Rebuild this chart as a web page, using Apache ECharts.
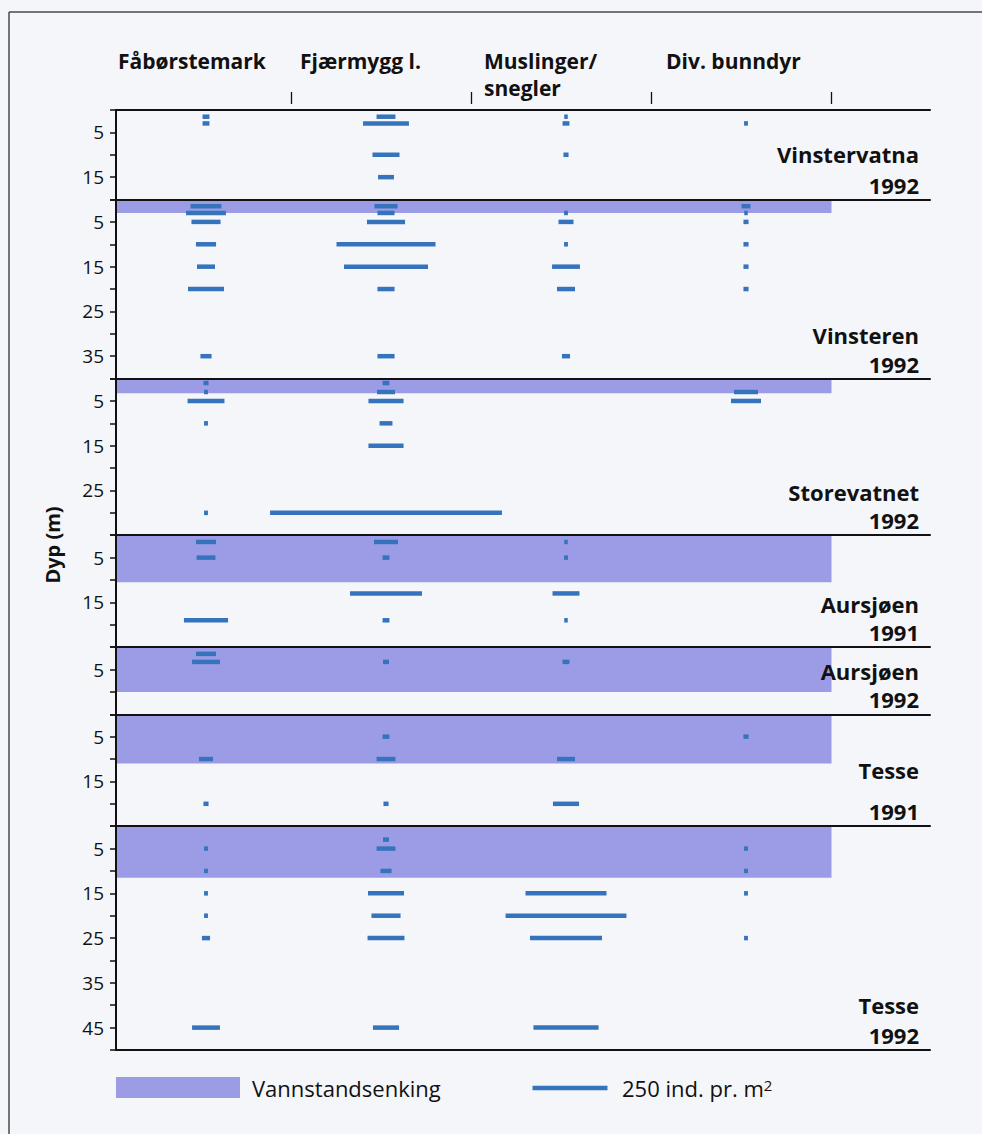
<!DOCTYPE html>
<html>
<head>
<meta charset="utf-8">
<script src="https://cdn.jsdelivr.net/npm/echarts@6/dist/echarts.min.js"></script>
<style>
  html, body { margin: 0; padding: 0; background: #f5f6fa; }
  #chart { width: 982px; height: 1134px; }
</style>
</head>
<body>
<div id="chart"></div>
<script>
// column headings
const groups = ['Fåbørstemark', 'Fjærmygg l.', 'Muslinger/\nsnegler', 'Div. bunndyr'];
// lakes, top to bottom
const lakes = ['Vinstervatna\n1992', 'Vinsteren\n1992', 'Storevatnet\n1992', 'Aursjøen\n1991',
               'Aursjøen\n1992', 'Tesse\n1991', 'Tesse\n1992'];
const maxDepth = [20, 40, 35, 25, 15, 25, 50];          // m shown per panel
const drawdown = [0, 3, 3.3, 10.5, 10, 11, 11.5];       // vannstandsenking, m
const depthLabels = [[5, 15], [5, 15, 25, 35], [5, 15, 25], [5, 15], [5], [5, 15], [5, 15, 25, 35, 45]];
const legendValue = 250;                                // ind. pr. m2

// rows: [dyp (m), Fåbørstemark, Fjærmygg l., Muslinger/snegler, Div. bunndyr]  (ind. pr. m2)
const vinstervatna92 = [
  [1.5, 23, 63, 7, 0],
  [3, 23, 153, 23, 13],
  [10, 0, 90, 17, 0],
  [15, 0, 53, 0, 0]
];
const vinsteren92 = [
  [1.5, 103, 77, 0, 30],
  [3, 133, 57, 13, 10],
  [5, 97, 127, 50, 17],
  [10, 67, 330, 13, 17],
  [15, 60, 280, 93, 17],
  [20, 120, 57, 60, 17],
  [35, 37, 57, 27, 0]
];
const storevatnet92 = [
  [1, 17, 23, 0, 0],
  [3, 13, 60, 0, 80],
  [5, 123, 117, 0, 100],
  [10, 13, 43, 0, 0],
  [15, 0, 117, 0, 0],
  [30, 13, 773, 0, 0]
];
const aursjoen91 = [
  [1.5, 67, 80, 10, 0],
  [5, 63, 23, 13, 0],
  [13, 0, 240, 90, 0],
  [19, 147, 23, 7, 0]
];
const aursjoen92 = [
  [1.5, 67, 0, 0, 0],
  [3.3, 93, 20, 23, 0]
];
const tesse91 = [
  [5, 0, 23, 0, 17],
  [10, 47, 63, 60, 0],
  [20, 17, 17, 87, 0]
];
const tesse92 = [
  [3, 0, 20, 0, 0],
  [5, 13, 63, 0, 13],
  [10, 13, 37, 0, 13],
  [15, 13, 120, 270, 13],
  [20, 13, 97, 403, 0],
  [25, 27, 123, 240, 13],
  [45, 93, 87, 217, 0]
];
const panels = [vinstervatna92, vinsteren92, storevatnet92, aursjoen91, aursjoen92, tesse91, tesse92];

// layout
const PLOT_TOP = 110, PLOT_LEFT = 116, PLOT_W = 814;
const PX_PER_M = 940 / 210;
const IND_PER_PX = 10 / 3;               // 250 ind. pr. m2 = 75 px
const X_MAX = PLOT_W * IND_PER_PX;
const COL_CENTER0 = 300, COL_STEP = 600, COL_EDGE0 = 585;
const labelGap = [31, 29, 28, 28, 28, 41, 30];
const BAR = '#3574bd', SHADE = '#9c9ce6', INK = '#111', FONT = '"Open Sans", "DejaVu Sans", sans-serif';

let acc = 0;
const tops = maxDepth.map(d => { const t = PLOT_TOP + acc * PX_PER_M; acc += d; return t; });

function renderBar(params, api) {
  const c = api.coord([COL_CENTER0 + COL_STEP * api.value(0), api.value(1)]);
  const w = Math.max(api.size([api.value(2), 0])[0], 3.5);
  return {
    type: 'rect',
    shape: { x: c[0] - w / 2, y: c[1] - 2.25, width: w, height: 4.5 },
    style: { fill: BAR }
  };
}

const grid = [], xAxis = [], yAxis = [], series = [];
function hiddenX(g, extra) {
  return Object.assign({ gridIndex: g, type: 'value', min: 0, max: X_MAX, axisLine: { show: false },
    axisTick: { show: false }, axisLabel: { show: false }, splitLine: { show: false } }, extra);
}

panels.forEach((rows, i) => {
  grid.push({ left: PLOT_LEFT, width: PLOT_W, top: tops[i], height: maxDepth[i] * PX_PER_M, outerBoundsMode: 'none' });
  xAxis.push(hiddenX(i, { position: 'top', z: 3, axisLine: { show: true, lineStyle: { color: INK, width: 2 } } }));
  yAxis.push({
    gridIndex: i, type: 'value', min: 0, max: maxDepth[i], interval: 5, inverse: true, z: 3,
    axisLine: { show: true, lineStyle: { color: INK, width: 2 } },
    axisTick: { show: true, inside: false, length: 6, lineStyle: { color: INK, width: 1.5 } },
    axisLabel: {
      color: INK, fontSize: 19, fontFamily: FONT, margin: 12,
      formatter: v => depthLabels[i].includes(v) ? String(v) : ''
    },
    splitLine: { show: false }
  });
  const data = [];
  rows.forEach(r => r.slice(1).forEach((v, j) => { if (v > 0) data.push([j, r[0], v]); }));
  series.push({
    type: 'custom', name: lakes[i], xAxisIndex: xAxis.length - 1, yAxisIndex: yAxis.length - 1,
    encode: { x: 0, y: 1 }, renderItem: renderBar, data: data, z: 2, silent: true,
    markArea: {
      silent: true, z: 1,
      itemStyle: { color: SHADE, opacity: 1, borderWidth: 0 },
      data: drawdown[i] > 0 ? [[{ xAxis: 0, yAxis: 0 }, { xAxis: COL_EDGE0 + 3 * COL_STEP, yAxis: drawdown[i] }]] : []
    }
  });
});
// bottom line under the last panel
xAxis.push(hiddenX(6, { position: 'bottom', z: 3, axisLine: { show: true, lineStyle: { color: INK, width: 2 } } }));

// header strip with the column separator ticks
grid.push({ left: PLOT_LEFT, width: PLOT_W, top: 92, height: 12, outerBoundsMode: 'none' });
xAxis.push(hiddenX(7, {
  position: 'bottom',
  axisTick: { show: true, inside: true, length: 12, customValues: [0, 1, 2, 3].map(k => COL_EDGE0 + k * COL_STEP),
              lineStyle: { color: INK, width: 1.3 } }
}));
yAxis.push({ gridIndex: 7, type: 'value', min: 0, max: 1, show: false });

// legend strip, drawn on the same x scale
grid.push({ left: PLOT_LEFT + 4, width: PLOT_W, top: 1077, height: 22, outerBoundsMode: 'none' });
xAxis.push(hiddenX(8, { show: false }));
yAxis.push({ gridIndex: 8, type: 'value', min: 0, max: 1, show: false });
series.push({
  type: 'custom', name: '250 ind. pr. m2', xAxisIndex: xAxis.length - 1, yAxisIndex: yAxis.length - 1, silent: true,
  encode: { x: 0, y: 1 }, renderItem: renderBar, data: [[2, 0.5, legendValue]]
});

const graphic = [
  { type: 'line', silent: true, shape: { x1: 9, y1: 12, x2: 982, y2: 12 }, style: { stroke: '#4a4a4a', lineWidth: 1.5 } },
  { type: 'line', silent: true, shape: { x1: 9, y1: 12, x2: 9, y2: 1134 }, style: { stroke: '#4a4a4a', lineWidth: 1.5 } },
  { type: 'text', x: 52, y: 545, rotation: Math.PI / 2, z: 10,
    style: { text: 'Dyp (m)', fontSize: 20, fontWeight: 'bold', fontFamily: FONT, fill: INK, align: 'center', verticalAlign: 'middle' } },
  { type: 'rect', shape: { x: 116, y: 1077, width: 124, height: 21 }, style: { fill: SHADE } },
  { type: 'text', x: 252, y: 1088, z: 10,
    style: { text: 'Vannstandsenking', fontSize: 22, fontFamily: FONT, fill: INK, align: 'left', verticalAlign: 'middle' } },
  { type: 'text', x: 622, y: 1088, z: 10,
    style: { text: '250 ind. pr. m{sup|2}', fontSize: 22, fontFamily: FONT, fill: INK, align: 'left', verticalAlign: 'middle',
             rich: { sup: { fontSize: 15, fontFamily: FONT, fill: INK, verticalAlign: 'top' } } } }
];
const headerX = [118, 300, 484, 666];
groups.forEach((g, j) => graphic.push({
  type: 'text', x: headerX[j], y: 47, z: 10,
  style: { text: g, fontSize: 21, fontWeight: 'bold', fontFamily: FONT, fill: INK, lineHeight: 27, align: 'left', verticalAlign: 'top' }
}));
lakes.forEach((name, i) => {
  const bottom = tops[i] + maxDepth[i] * PX_PER_M;
  const L = labelGap[i];
  graphic.push({
    type: 'text', x: 919, y: bottom - 15 - 1.5 * L, z: 10,
    style: { text: name, fontSize: 22, fontWeight: 'bold', fontFamily: FONT, fill: INK, lineHeight: L, align: 'right', verticalAlign: 'top' }
  });
});

const chart = echarts.init(document.getElementById('chart'), null, { renderer: 'svg' });
chart.setOption({
  backgroundColor: '#f5f6fa',
  animation: false,
  grid: grid,
  xAxis: xAxis,
  yAxis: yAxis,
  series: series,
  graphic: graphic
});
</script>
</body>
</html>
